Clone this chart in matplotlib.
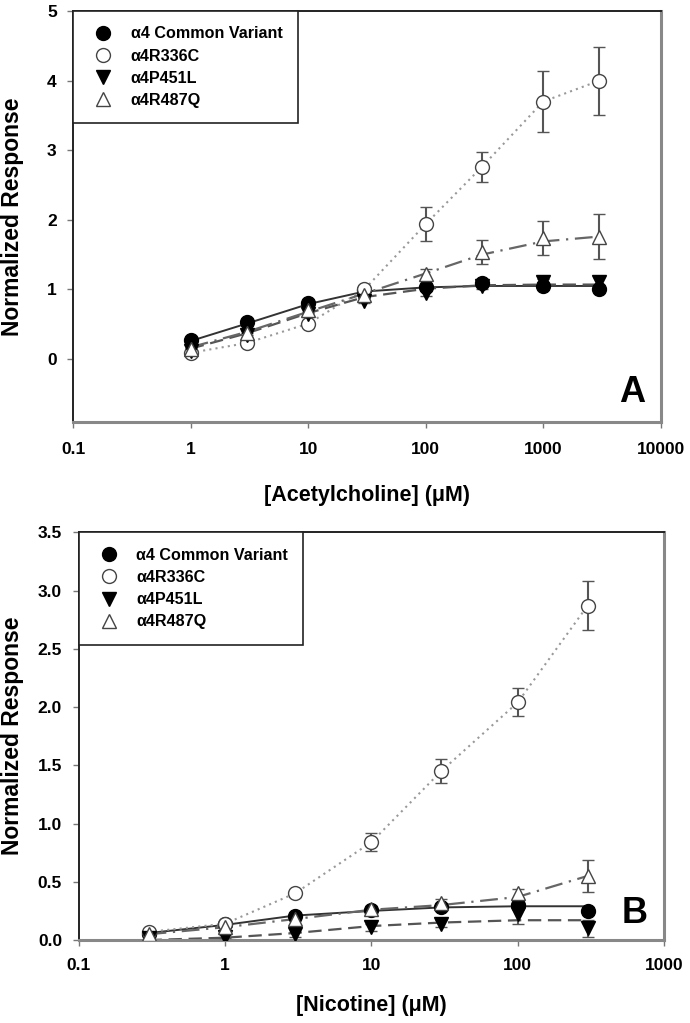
import matplotlib
matplotlib.use('Agg')
import matplotlib.pyplot as plt
from matplotlib.lines import Line2D

plt.rcParams['font.family'] = ['Liberation Sans', 'DejaVu Sans']
plt.rcParams['font.weight'] = 'bold'

labels = ['\u03b14 Common Variant', '\u03b14R336C', '\u03b14P451L', '\u03b14R487Q']

# panel A: acetylcholine
ach_conc = [1, 3, 10, 30, 100, 300, 1000, 3000]
ach_common = [0.27, 0.53, 0.80, 0.99, 1.03, 1.09, 1.05, 1.00]
ach_common_err = [0.03, 0.03, 0.03, 0.03, 0.04, 0.04, 0.03, 0.03]
ach_common_fit = [0.26, 0.51, 0.79, 0.97, 1.03, 1.05, 1.05, 1.05]
ach_r336c = [0.09, 0.23, 0.51, 1.00, 1.94, 2.76, 3.70, 4.00]
ach_r336c_err = [0.02, 0.03, 0.04, 0.05, 0.24, 0.21, 0.44, 0.49]
ach_p451l = [0.11, 0.34, 0.64, 0.84, 0.95, 1.05, 1.10, 1.10]
ach_p451l_err = [0.03, 0.03, 0.03, 0.04, 0.05, 0.05, 0.05, 0.08]
ach_p451l_fit = [0.15, 0.37, 0.66, 0.89, 1.01, 1.06, 1.07, 1.07]
ach_r487q = [0.14, 0.37, 0.70, 0.92, 1.22, 1.54, 1.74, 1.76]
ach_r487q_err = [0.02, 0.03, 0.04, 0.05, 0.08, 0.17, 0.25, 0.32]
ach_r487q_fit = [0.17, 0.39, 0.68, 0.94, 1.23, 1.50, 1.69, 1.76]

# panel B: nicotine
nic_conc = [0.3, 1, 3, 10, 30, 100, 300]
nic_common = [0.05, 0.14, 0.21, 0.26, 0.28, 0.30, 0.25]
nic_common_err = [0.01, 0.02, 0.02, 0.02, 0.02, 0.03, 0.03]
nic_common_fit = [0.06, 0.13, 0.21, 0.25, 0.28, 0.29, 0.29]
nic_r336c = [0.07, 0.14, 0.40, 0.84, 1.45, 2.04, 2.87]
nic_r336c_err = [0.02, 0.02, 0.03, 0.075, 0.105, 0.12, 0.21]
nic_p451l = [0.02, 0.03, 0.05, 0.11, 0.14, 0.22, 0.10]
nic_p451l_err = [0.01, 0.01, 0.02, 0.03, 0.03, 0.08, 0.07]
nic_p451l_fit = [0.00, 0.02, 0.06, 0.12, 0.15, 0.17, 0.17]
nic_r487q = [0.05, 0.11, 0.18, 0.27, 0.32, 0.40, 0.55]
nic_r487q_err = [0.01, 0.02, 0.02, 0.02, 0.03, 0.04, 0.135]
nic_r487q_fit = [0.05, 0.11, 0.18, 0.26, 0.30, 0.37, 0.55]

ms = 10
styles = [
    dict(marker='o', mfc='black', mec='black'),
    dict(marker='o', mfc='white', mec='#444444'),
    dict(marker='v', mfc='black', mec='black'),
    dict(marker='^', mfc='white', mec='#444444'),
]
lines = [
    dict(color='#333333', ls='-', lw=1.4),
    dict(color='#999999', ls=(0, (1, 2)), lw=1.5),
    dict(color='#555555', ls=(0, (6, 3)), lw=1.6),
    dict(color='#666666', ls=(0, (8, 3, 1, 3)), lw=1.6),
]


def draw(ax, x, series, fits):
    for i, (y, err) in enumerate(series):
        ax.plot(x, fits[i], zorder=2, **lines[i])
        ax.errorbar(x, y, yerr=err, ls='none', ecolor='#555555', elinewidth=1.5,
                    capsize=4.5, capthick=1.5, ms=ms, mew=1.0, zorder=3, **styles[i])


def style(ax, xticks, xlabs, yticks, ylabs, xpad, ylab_x):
    ax.set_xscale('log')
    ax.set_xticks(xticks)
    ax.set_xticklabels(xlabs)
    ax.minorticks_off()
    ax.set_yticks(yticks)
    ax.set_yticklabels(ylabs)
    ax.tick_params(axis='both', direction='out', length=4, width=1, color='#777777',
                   labelsize=12.5, top=False, right=False)
    ax.tick_params(axis='y', pad=8)
    ax.tick_params(axis='x', pad=xpad)
    ax.spines['top'].set_color('#222222')
    ax.spines['left'].set_color('#222222')
    ax.spines['top'].set_linewidth(1.4)
    ax.spines['left'].set_linewidth(1.4)
    ax.spines['right'].set_color('#888888')
    ax.spines['right'].set_linewidth(2.2)
    ax.spines['bottom'].set_color('#888888')
    ax.spines['bottom'].set_linewidth(2.2)
    ax.set_ylabel('Normalized Response', fontsize=16.5, fontweight='bold', va='center')
    ax.yaxis.set_label_coords(ylab_x, 0.5)
    handles = [Line2D([], [], ls='none', ms=ms, mew=1.0, **s) for s in styles]
    leg = ax.legend(handles, labels, loc='upper left', bbox_to_anchor=(0, 1),
                    borderaxespad=0, fancybox=False, framealpha=1, edgecolor='#222222',
                    prop={'size': 11.6, 'weight': 'bold'}, borderpad=0.95,
                    handlelength=1.8, handletextpad=0.8, labelspacing=0.45)
    leg.get_frame().set_linewidth(1.2)


fig = plt.figure(figsize=(6.9, 10.23), dpi=100)

axA = fig.add_axes([0.1063, 0.5878, 0.8513, 0.4014])
draw(axA, ach_conc,
     [(ach_common, ach_common_err), (ach_r336c, ach_r336c_err),
      (ach_p451l, ach_p451l_err), (ach_r487q, ach_r487q_err)],
     [ach_common_fit, ach_r336c, ach_p451l_fit, ach_r487q_fit])
axA.set_xlim(0.1, 10000)
axA.set_ylim(-0.9, 5)
style(axA, [0.1, 1, 10, 100, 1000, 10000], ['0.1', '1', '10', '100', '1000', '10000'],
      [0, 1, 2, 3, 4, 5], ['0', '1', '2', '3', '4', '5'], 10.8, -0.104)
axA.set_xlabel('[Acetylcholine] (\u03bcM)', fontsize=15.5, fontweight='bold', va='center')
axA.xaxis.set_label_coords(0.5, -0.18)
axA.text(0.951, 0.07, 'A', transform=axA.transAxes, fontsize=26, fontweight='bold',
         ha='center', va='center')

axB = fig.add_axes([0.1141, 0.0811, 0.8483, 0.3985])
draw(axB, nic_conc,
     [(nic_common, nic_common_err), (nic_r336c, nic_r336c_err),
      (nic_p451l, nic_p451l_err), (nic_r487q, nic_r487q_err)],
     [nic_common_fit, nic_r336c, nic_p451l_fit, nic_r487q_fit])
axB.set_xlim(0.1, 1000)
axB.set_ylim(0, 3.5)
style(axB, [0.1, 1, 10, 100, 1000], ['0.1', '1', '10', '100', '1000'],
      [0, 0.5, 1.0, 1.5, 2.0, 2.5, 3.0, 3.5],
      ['0.0', '0.5', '1.0', '1.5', '2.0', '2.5', '3.0', '3.5'], 8.8, -0.114)
axB.set_xlabel('[Nicotine] (\u03bcM)', fontsize=15.5, fontweight='bold', va='center')
axB.xaxis.set_label_coords(0.5, -0.16)
axB.text(0.949, 0.066, 'B', transform=axB.transAxes, fontsize=26, fontweight='bold',
         ha='center', va='center')
for sp in axB.spines.values():
    sp.set_clip_on(False)

fig.savefig('out.png', dpi=100)
